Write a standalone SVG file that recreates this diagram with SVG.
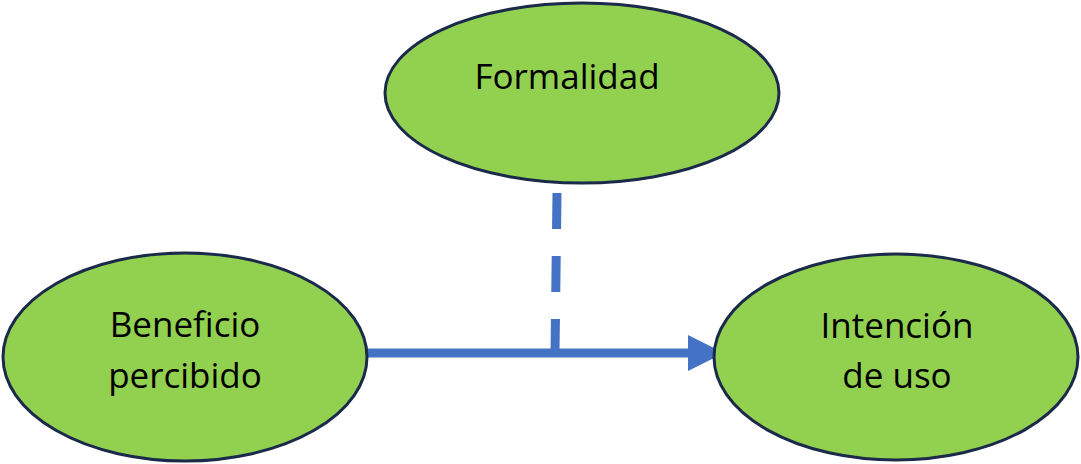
<svg xmlns="http://www.w3.org/2000/svg" width="1081" height="464" viewBox="0 0 1081 464">
<style>
.node{fill:#92D050;stroke:#1B2A4A;stroke-width:3}
.lbl{font-family:"Open Sans","Liberation Sans",sans-serif;font-size:35px;fill:#000;text-anchor:middle}
.conn{stroke:#4472C4;fill:none;stroke-width:9}
</style>
<defs>
<marker id="ah" markerUnits="userSpaceOnUse" markerWidth="36" markerHeight="36" refX="34" refY="18" orient="auto" viewBox="0 0 36 36">
<path d="M0,0 L36,18 L0,36 Z" fill="#4472C4"/>
</marker>
</defs>
<rect width="1081" height="464" fill="#fff"/>
<g id="connectors">
<path class="conn" d="M367,353 L722,353" marker-end="url(#ah)"/>
<path class="conn" d="M557,193 L555,353" stroke-dasharray="36 27" stroke-width="8"/>
</g>
<g id="formalidad">
<ellipse class="node" cx="582" cy="93" rx="197" ry="90"/>
<text class="lbl" x="567" y="89">Formalidad</text>
</g>
<g id="beneficio">
<ellipse class="node" cx="185" cy="357" rx="182" ry="104"/>
<text class="lbl" x="185" y="337">Beneficio</text>
<text class="lbl" x="185" y="388">percibido</text>
</g>
<g id="intencion">
<ellipse class="node" cx="896" cy="357" rx="182" ry="103"/>
<text class="lbl" x="897" y="338">Intención</text>
<text class="lbl" x="897" y="388">de uso</text>
</g>
</svg>
